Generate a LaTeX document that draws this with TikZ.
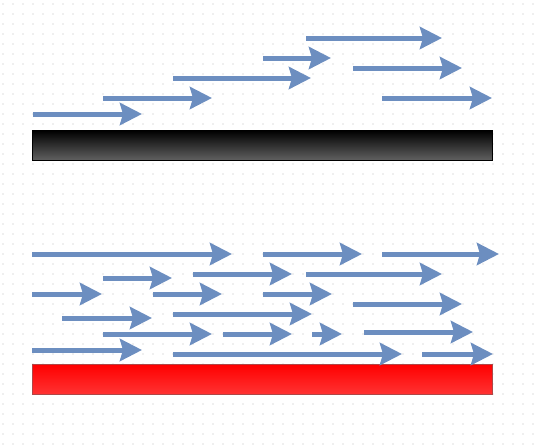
\documentclass[tikz,border=0pt]{standalone}
\usetikzlibrary{arrows.meta}

\definecolor{flowblue}{RGB}{108,142,192}
\definecolor{gridgray}{RGB}{185,185,185}
\definecolor{wallred}{RGB}{176,70,70}

\begin{document}
\begin{tikzpicture}[
    x=1pt, y=-1pt,
    flow/.style = {draw=flowblue, line width=5pt, -{Stealth[length=22pt, width=22pt, inset=3pt]}},
    bar/.style = {draw, rectangle, minimum width=460pt, minimum height=30pt, anchor=north west, inner sep=0pt, line width=0.8pt}
]

\useasboundingbox (0,0) rectangle (536,445);

% =========================================================
% BACKGROUND DOT GRID
% =========================================================
\foreach \gx in {3,13,...,533}
    \foreach \gy in {4,14,...,444}
        \fill[gridgray] (\gx,\gy) circle (0.55pt);

% =========================================================
% TOP CASE: flow above the dark wall
% =========================================================
\node[bar, top color=black, bottom color=black!62] (darkwall) at (32,130) {};

\foreach \xa/\xb/\yy in {33/142/114, 103/212/98, 173/311/78, 263/331/58,
                         306/442/38, 353/462/68, 382/492/98}
    \draw[flow] (\xa,\yy) -- (\xb,\yy);

% =========================================================
% BOTTOM CASE: flow above the red wall
% =========================================================
\node[bar, draw=wallred, top color=red, bottom color=red!80!white] (redwall) at (32,364) {};

\foreach \xa/\xb/\yy in {32/232/254, 263/362/254, 382/499/254,
                         103/172/278, 193/292/274, 306/442/274,
                         32/102/294, 153/222/294, 263/332/294,
                         62/152/318, 173/312/314, 353/462/304,
                         103/212/334, 223/292/334, 312/342/334, 364/473/332,
                         32/142/350, 173/402/354, 422/493/354}
    \draw[flow] (\xa,\yy) -- (\xb,\yy);

\end{tikzpicture}
\end{document}
